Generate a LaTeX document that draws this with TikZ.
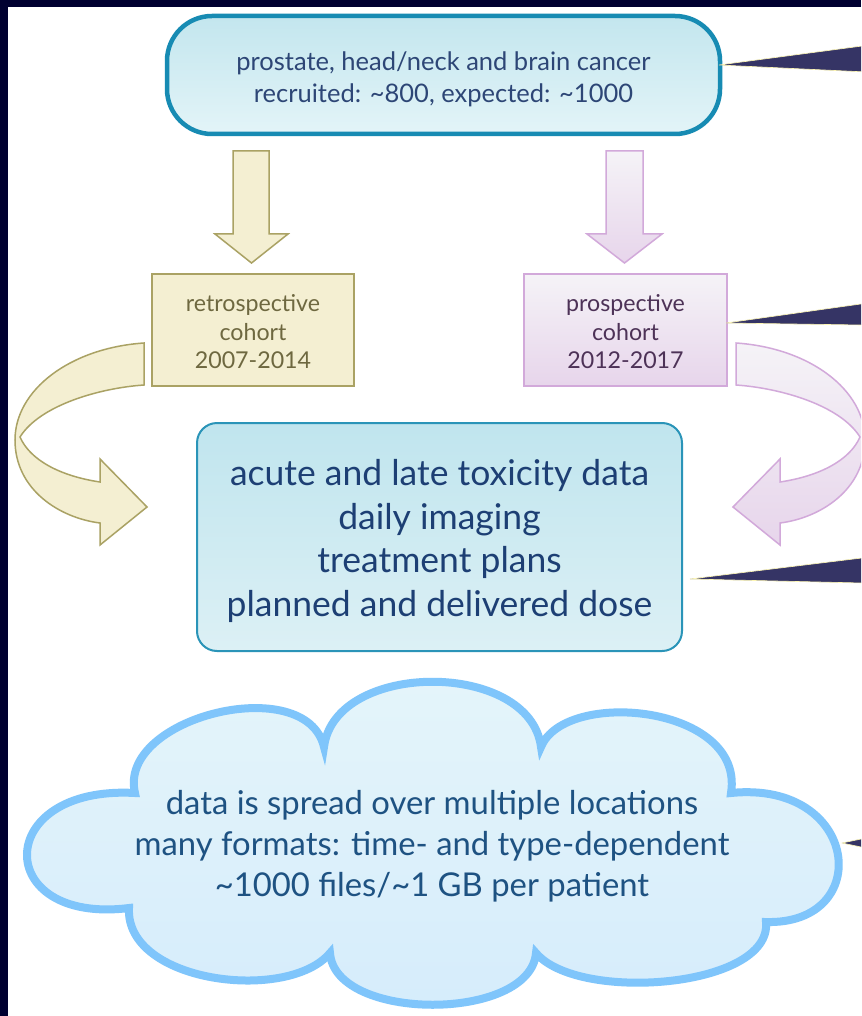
\documentclass[tikz,border=0pt]{standalone}
\usepackage{fontspec}
\setmainfont{Lato}
\usetikzlibrary{calc}
\definecolor{bgdark}{HTML}{000030}
\definecolor{topfillA}{HTML}{C3E6EE}
\definecolor{topfillB}{HTML}{E3F4F8}
\definecolor{tealedge}{HTML}{178BB3}
\definecolor{toptext}{HTML}{2D4676}
\definecolor{creamfill}{HTML}{F4EFD2}
\definecolor{oliveedge}{HTML}{AAA264}
\definecolor{olivetext}{HTML}{6E6840}
\definecolor{lilacA}{HTML}{F5F3F7}
\definecolor{lilacB}{HTML}{E7D5EB}
\definecolor{lilacedge}{HTML}{D2A9DA}
\definecolor{lilactext}{HTML}{4D3257}
\definecolor{midA}{HTML}{C0E5EE}
\definecolor{midB}{HTML}{DCF0F5}
\definecolor{midedge}{HTML}{2A94B8}
\definecolor{midtext}{HTML}{1D3F74}
\definecolor{cloudA}{HTML}{E5F5FA}
\definecolor{cloudB}{HTML}{D5ECFB}
\definecolor{cloudedge}{HTML}{7FC5FB}
\definecolor{cloudtext}{HTML}{1E5282}
\definecolor{wedgefill}{HTML}{353465}
\definecolor{wedgeedge}{HTML}{FDF6B4}
\tikzset{
  topbox/.style={draw=tealedge, line width=4.5pt, rounded corners=45pt,
    top color=topfillA, bottom color=topfillB,
    minimum width=553pt, minimum height=118pt, inner sep=0pt},
  toplabel/.style={text=toptext, align=center, inner sep=0pt,
    font=\fontsize{25.5}{32}\selectfont},
  retrobox/.style={draw=oliveedge, line width=1.5pt, fill=creamfill,
    minimum width=202pt, minimum height=112pt, inner sep=0pt},
  prosbox/.style={draw=lilacedge, line width=1.5pt, top color=lilacA, bottom color=lilacB,
    minimum width=203pt, minimum height=112pt, inner sep=0pt},
  cohortlabel/.style={align=center, inner sep=0pt, font=\fontsize{23.2}{28.5}\selectfont},
  midbox/.style={draw=midedge, line width=2pt, rounded corners=20pt,
    top color=midA, bottom color=midB,
    minimum width=485pt, minimum height=228pt, inner sep=0pt},
  midlabel/.style={text=midtext, align=center, inner sep=0pt,
    font=\fontsize{35.5}{43.7}\selectfont},
  cloudlabel/.style={text=cloudtext, align=center, inner sep=0pt,
    font=\fontsize{32.8}{41}\selectfont},
  retroarrow/.style={draw=oliveedge, line width=1.5pt, fill=creamfill, line join=miter},
  prosarrow/.style={draw=lilacedge, line width=1.5pt, top color=lilacA, bottom color=lilacB, line join=miter},
  wedge/.style={fill=wedgefill, draw=wedgeedge, line width=0.6pt},
}
\begin{document}
\begin{tikzpicture}[x=1pt,y=-1pt]
\useasboundingbox (0,0) rectangle (861,1016);
\clip (0,0) rectangle (861,1016);
\fill[bgdark] (0,0) rectangle (861,1016);
\fill[white] (8,7) rectangle (875,1025);

% straight arrows
\path[retroarrow] (233,151) -- (269,151) -- (269,234) -- (288,234) -- (251.5,263)
  -- (215,234) -- (233,234) -- cycle;
\path[prosarrow] (606,151) -- (643,151) -- (643,234) -- (662,234) -- (624.5,263)
  -- (587,234) -- (606,234) -- cycle;

% nodes
\node[topbox] (top) at (443.5,75) {};
\node[toplabel] (toplbl) at ($(top.center)+(0,4)$) {prostate, head/neck and brain cancer\\recruited: \textasciitilde800, expected: \textasciitilde1000};
\node[retrobox] (retro) at (253,330) {};
\node[cohortlabel, text=olivetext] (retrolbl) at ($(retro.center)+(0,2)$) {retrospective\\cohort\\2007-2014};
\node[prosbox] (pros) at (625.5,330) {};
\node[cohortlabel, text=lilactext] (proslbl) at ($(pros.center)+(0,2)$) {prospective\\cohort\\2012-2017};
\node[midbox] (mid) at (439.5,537) {};
\node[midlabel] (midlbl) at ($(mid.center)+(0,4)$) {acute and late toxicity data\\daily imaging\\treatment plans\\planned and delivered dose};

% curved arrows
\path[retroarrow] (144,343) .. controls (70,348) and (15,390) .. (15,440)
  .. controls (15,490) and (60,518) .. (100,523) -- (100,545) -- (147,507)
  -- (100,459) -- (100,482) .. controls (60,476) and (30,460) .. (20,437)
  .. controls (40,405) and (100,388) .. (144,385) -- cycle;
\path[prosarrow] (736,343) .. controls (810,348) and (865,390) .. (865,440)
  .. controls (865,490) and (820,518) .. (780,523) -- (780,545) -- (733,507)
  -- (780,459) -- (780,482) .. controls (820,476) and (850,460) .. (860,437)
  .. controls (840,405) and (780,388) .. (736,385) -- cycle;

% cloud
\path[draw=cloudedge, line width=8pt, top color=cloudA, bottom color=cloudB]
  (135,793) .. controls (117,717) and (306,671) .. (324,747)
  .. controls (335,660) and (530,660) .. (541,747)
  .. controls (565,688) and (745,705) .. (731,793)
  .. controls (860,780) and (875,925) .. (766,922)
  .. controls (772,988) and (578,1003) .. (536,953)
  .. controls (530,1022) and (335,1022) .. (330,953)
  .. controls (288,1003) and (125,983) .. (129,908)
  .. controls (-8,925) and (-8,785) .. (135,793) -- cycle;
\node[cloudlabel] (cloud) at (432,846) {data is spread over multiple locations\\many formats: time- and type-dependent\\\textasciitilde1000 files/\textasciitilde1 GB per patient};

% callout wedges
\coordinate (w1) at (719,65);
\coordinate (w2) at (726,323);
\coordinate (w3) at (690,579);
\coordinate (w4) at (842,843);
\coordinate (w1a) at (875,44.3); \coordinate (w1b) at (875,72.4);
\coordinate (w2a) at (875,302.0); \coordinate (w2b) at (875,325.2);
\coordinate (w3a) at (875,556.4); \coordinate (w3b) at (875,583.3);
\coordinate (w4a) at (875,836.1); \coordinate (w4b) at (875,849.9);
\path[wedge] (w1) -- (w1a) -- (w1b) -- cycle;
\path[wedge] (w2) -- (w2a) -- (w2b) -- cycle;
\path[wedge] (w3) -- (w3a) -- (w3b) -- cycle;
\path[wedge] (w4) -- (w4a) -- (w4b) -- cycle;
\end{tikzpicture}
\end{document}
